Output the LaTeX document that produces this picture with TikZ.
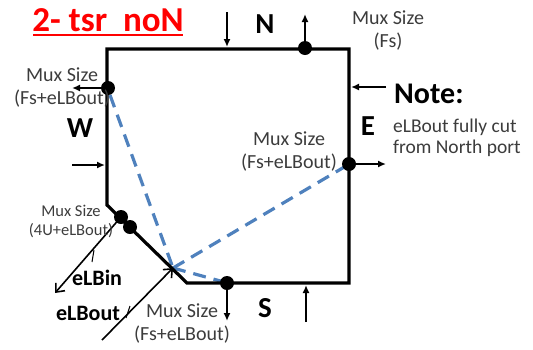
\documentclass[tikz,border=0pt]{standalone}
\usepackage{fontspec}
\setmainfont{Carlito}
\usetikzlibrary{arrows.meta}
\definecolor{dashblue}{RGB}{79,129,189}
\definecolor{txtgray}{RGB}{60,60,60}
\definecolor{titlered}{RGB}{255,0,0}
\begin{document}
\begin{tikzpicture}[x=1pt,y=-1pt,
  outline/.style={line width=3.2pt, line join=miter},
  port/.style={line width=1.6pt, -{Latex[length=8pt,width=7pt]}},
  bus/.style={line width=1.6pt, -{Straight Barb[length=7pt,width=12pt,line width=1.6pt]}},
  tick/.style={line width=1pt},
  dot/.style={circle, fill=black, inner sep=0pt, minimum size=14pt},
  lbl/.style={font=\fontsize{20}{23}\selectfont, text=txtgray, align=center, inner sep=0pt},
  small lbl/.style={font=\fontsize{16.5}{19}\selectfont, text=txtgray, align=center, inner sep=0pt},
  note lbl/.style={font=\fontsize{19.5}{20.5}\selectfont, text=txtgray, align=left, inner sep=0pt},
  big/.style={font=\fontsize{29}{30}\selectfont\bfseries, inner sep=0pt},
  mid/.style={font=\fontsize{22}{23}\selectfont\bfseries, inner sep=0pt},
  dashln/.style={dashblue, line width=3.2pt, dash pattern=on 13pt off 8pt}]
\useasboundingbox (0,0) rectangle (533,349);

% outline corners
\coordinate (TL) at (107,49);
\coordinate (TR) at (349,49);
\coordinate (BR) at (349,283);
\coordinate (BL) at (187,283);
\coordinate (LB) at (107,205);
\coordinate (J) at (173,268);

% blue dashed
\draw[dashln] (110,95) -- (J);
\draw[dashln] (J) -- (346,166);
\draw[dashln] (J) -- (224,282);

% outline
\draw[outline] (LB) -- (TL) -- (TR) -- (BR) -- (BL) -- cycle;

% dots
\node[dot] (dN) at (305,48) {};
\node[dot] (dW) at (108,88) {};
\node[dot] (dE) at (349,164) {};
\node[dot] (dS) at (227,283) {};
\node[dot] (dA) at (121,217) {};
\node[dot] (dB) at (130,227) {};

% output port arrows
\coordinate (oN) at (305,14);
\coordinate (oW) at (72,88);
\coordinate (oE) at (386,164);
\coordinate (oS) at (227,321);
\draw[port] (dN.center) -- (oN);
\draw[port] (dW.center) -- (oW);
\draw[port] (dE.center) -- (oE);
\draw[port] (dS.center) -- (oS);

% input port arrows
\coordinate (iN0) at (227,12);  \coordinate (iN1) at (227,47);
\coordinate (iW0) at (72,165);  \coordinate (iW1) at (105,165);
\coordinate (iE0) at (386,87);  \coordinate (iE1) at (351,87);
\coordinate (iS0) at (306,322); \coordinate (iS1) at (306,285);
\draw[port] (iN0) -- (iN1);
\draw[port] (iW0) -- (iW1);
\draw[port] (iE0) -- (iE1);
\draw[port] (iS0) -- (iS1);

% eLBin / eLBout
\coordinate (inEnd) at (55,293);
\coordinate (outStart) at (102,340);
\draw[bus] (dA.center) -- (inEnd);
\draw[bus] (outStart) -- (J);
\draw[tick] (94,250) -- (92,262);
\draw[tick] (130,306) -- (126,318);

% title
\node[font=\fontsize{35}{36}\selectfont\bfseries, text=titlered, inner sep=0pt] (title) at (108,20) {2- tsr\ \ noN};
\draw[titlered, line width=2.2pt] (33,35) -- (183,35);

% direction letters
\node[big] (N) at (265,24) {N};
\node[big] (W) at (80,128) {W};
\node[big] (E) at (368,126) {E};
\node[big] (S) at (265,308) {S};

% labels
\node[lbl] (mN) at (388,31) {Mux Size\\(Fs)};
\node[lbl] (mW) at (62,88) {Mux Size\\(Fs+eLBout)};
\node[lbl] (mE) at (289,152) {Mux Size\\(Fs+eLBout)};
\node[small lbl] (mD) at (71,221) {Mux Size\\(4U+eLBout)};
\node[lbl] (mS) at (182,323) {Mux Size\\(Fs+eLBout)};
\node[mid] (lin) at (97,278) {eLBin};
\node[mid] (lout) at (88,313) {eLBout};

% note
\node[font=\fontsize{30}{31}\selectfont\bfseries, anchor=west, inner sep=0pt] (note) at (394,94) {Note:};
\node[note lbl, anchor=north west] (notetxt) at (393,119) {eLBout fully cut\\from North port};
\end{tikzpicture}
\end{document}
